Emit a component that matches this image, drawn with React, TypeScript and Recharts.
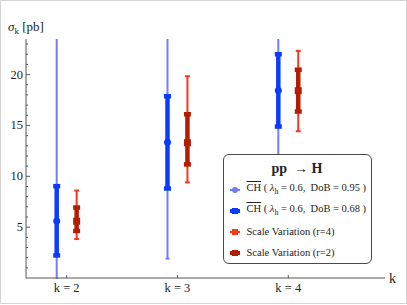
import React from 'react';
import { ComposedChart, Scatter, ErrorBar, XAxis, YAxis, Legend } from 'recharts';

// k values and the horizontal shift between the two groups (in k units)
const ks = [2, 3, 4];
const shift = 0.09;

// CH prediction (blue)
const chCentral = [5.6, 13.35, 18.44];
const ch68Low = [2.22, 8.8, 14.89];
const ch68High = [9.03, 17.87, 22.0];
const ch95Low = [-0.5, 1.9, 10.5];
const ch95High = [28, 28, 28];

// scale variation (red)
const svCentral = [5.58, 13.3, 18.41];
const sv2Low = [4.62, 11.17, 16.37];
const sv2High = [6.93, 16.1, 20.48];
const sv4Low = [3.83, 9.4, 14.43];
const sv4High = [8.6, 19.84, 22.33];

const yTicks = Array.from({ length: 23 }, (_, i) => i + 1);
const xTicks = [2, 3, 4];

const LIGHT_BLUE = '#6f7dff';
const BLUE = '#0a3cff';
const LIGHT_RED = '#f7381c';
const DARK_RED = '#b41c00';
const FONT = '"Liberation Serif", "DejaVu Serif", serif';

// chart layout
const W = 405;
const H = 302;
const M = { top: 38, right: 21, left: 0, bottom: 0 };
const Y_AXIS_W = 25;
const X_AXIS_H = 25;

const chData = ks.map((k, i) => ({
  k: k - shift,
  y: chCentral[i],
  e95: [chCentral[i] - ch95Low[i], ch95High[i] - chCentral[i]],
  e68: [chCentral[i] - ch68Low[i], ch68High[i] - chCentral[i]],
}));

const svData = ks.map((k, i) => ({
  k: k + shift,
  y: svCentral[i],
  e4: [svCentral[i] - sv4Low[i], sv4High[i] - svCentral[i]],
  e2: [svCentral[i] - sv2Low[i], sv2High[i] - svCentral[i]],
}));

const YTick = (props: any) => {
  const { x, y, payload } = props;
  const major = payload.value % 5 === 0;
  return (
    <g>
      <line x1={x} x2={x + (major ? 4 : 2)} y1={y} y2={y} stroke="#555" strokeWidth={1} />
      {major && (
        <text x={x - 3} y={y + 4} textAnchor="end" fontSize={12.5} fontFamily={FONT} fill="#222">
          {payload.value}
        </text>
      )}
    </g>
  );
};

const XTick = (props: any) => {
  const { x, y, payload } = props;
  return (
    <g>
      <line x1={x} x2={x} y1={y} y2={y - 3} stroke="#555" strokeWidth={1} />
      <text x={x} y={y + 14} textAnchor="middle" fontSize={12.5} fontFamily={FONT} fill="#222">
        {`k = ${payload.value}`}
      </text>
    </g>
  );
};

const Dot = (props: any) => {
  const { cx, cy } = props;
  return <circle cx={cx} cy={cy} r={3.5} fill={BLUE} />;
};

const Square = (props: any) => {
  const { cx, cy } = props;
  return <rect x={cx - 3.5} y={cy - 3.5} width={7} height={7} fill={DARK_RED} />;
};

const Hidden = () => <g />;

const legendRows = [
  { color: LIGHT_BLUE, kind: 'circle', thick: false, dob: '0.95' },
  { color: BLUE, kind: 'square', thick: true, dob: '0.68' },
  { color: LIGHT_RED, kind: 'square', thick: false, r: '4' },
  { color: DARK_RED, kind: 'square', thick: true, r: '2' },
];

const LegendBox = () => (
  <div
    style={{
      boxSizing: 'border-box',
      width: 149,
      height: 110,
      border: '1.5px solid #4a4a4a',
      borderRadius: 6,
      background: '#fff',
      fontFamily: FONT,
      color: '#222',
      padding: '4px 0 0 0',
    }}
  >
    <div style={{ textAlign: 'center', fontWeight: 'bold', fontSize: 14, height: 20, lineHeight: '20px' }}>
      pp&nbsp;&nbsp;→ H
    </div>
    {legendRows.map((row, i) => (
      <div key={i} style={{ display: 'flex', alignItems: 'center', height: 21, fontSize: 10.5, whiteSpace: 'nowrap' }}>
        <svg width={20} height={10} style={{ marginLeft: 3 }}>
          <line x1={3} x2={13} y1={5} y2={5} stroke={row.color} strokeWidth={row.thick ? 4 : 2} />
          {row.kind === 'circle' ? (
            <circle cx={8} cy={5} r={3} fill={row.color} />
          ) : (
            <rect x={5} y={2} width={6} height={6} fill={row.color} />
          )}
        </svg>
        {row.dob ? (
          <span>
            <span style={{ textDecoration: 'overline' }}>CH</span> ( <i>λ</i>
            <sub style={{ fontSize: 8 }}>h</sub> = 0.6,&nbsp; DoB = {row.dob} )
          </span>
        ) : (
          <span>Scale Variation (r={row.r})</span>
        )}
      </div>
    ))}
  </div>
);

export default function App() {
  return (
    <div
      style={{
        position: 'absolute',
        left: 0,
        top: 0,
        width: 407,
        height: 304,
        boxSizing: 'border-box',
        border: '1px solid #d4d4d4',
        background: '#fff',
      }}
    >
      {/* error bars are drawn outside the series clip, so clip them to the plot area here */}
      <style>{`.recharts-errorBars, .recharts-errorBar { clip-path: url(#plotClip); }`}</style>
      <ComposedChart width={W} height={H} margin={M}>
        <defs>
          <clipPath id="plotClip">
            <rect
              x={M.left + Y_AXIS_W}
              y={M.top}
              width={W - M.left - M.right - Y_AXIS_W}
              height={H - M.top - M.bottom - X_AXIS_H + 1}
            />
          </clipPath>
        </defs>
        <XAxis
          type="number"
          dataKey="k"
          domain={[1.633, 4.873]}
          ticks={xTicks}
          interval={0}
          allowDataOverflow
          height={X_AXIS_H}
          tickSize={0}
          tickMargin={0}
          tickLine={false}
          tick={<XTick />}
          axisLine={{ stroke: '#555', strokeWidth: 1 }}
          label={{
            content: (p: any) => (
              <text
                x={p.viewBox.x + p.viewBox.width + 4}
                y={p.viewBox.y + 5}
                fontSize={14}
                fontFamily={FONT}
                fill="#222"
              >
                k
              </text>
            ),
          }}
        />
        <YAxis
          type="number"
          dataKey="y"
          domain={[0, 23.5]}
          ticks={yTicks}
          interval={0}
          allowDataOverflow
          width={Y_AXIS_W}
          tickSize={0}
          tickMargin={0}
          tickLine={false}
          tick={<YTick />}
          axisLine={{ stroke: '#555', strokeWidth: 1 }}
          label={{
            content: (p: any) => (
              <text x={7} y={p.viewBox.y - 8} fontSize={13} fontFamily={FONT} fill="#222">
                <tspan fontStyle="italic">σ</tspan>
                <tspan fontSize={9} dy={3}>k</tspan>
                <tspan dy={-3}> [pb]</tspan>
              </text>
            ),
          }}
        />

        {/* CH, DoB = 0.95 */}
        <Scatter data={chData} shape={<Hidden />} isAnimationActive={false}>
          <ErrorBar dataKey="e95" direction="y" width={2} stroke={LIGHT_BLUE} strokeWidth={2} />
        </Scatter>
        {/* CH, DoB = 0.68 */}
        <Scatter data={chData} shape={<Dot />} isAnimationActive={false}>
          <ErrorBar dataKey="e68" direction="y" width={3.5} stroke={BLUE} strokeWidth={4.5} />
        </Scatter>

        {/* scale variation r=4 */}
        <Scatter data={svData} shape={<Hidden />} isAnimationActive={false}>
          <ErrorBar dataKey="e4" direction="y" width={2.5} stroke={LIGHT_RED} strokeWidth={2} />
        </Scatter>
        {/* scale variation r=2 */}
        <Scatter data={svData} shape={<Square />} isAnimationActive={false}>
          <ErrorBar dataKey="e2" direction="y" width={3.5} stroke={DARK_RED} strokeWidth={4.5} />
        </Scatter>

        <Legend
          layout="vertical"
          align="center"
          verticalAlign="middle"
          content={<LegendBox />}
          wrapperStyle={{ left: 221.5, top: 153, width: 149, height: 110 }}
        />
      </ComposedChart>
    </div>
  );
}
